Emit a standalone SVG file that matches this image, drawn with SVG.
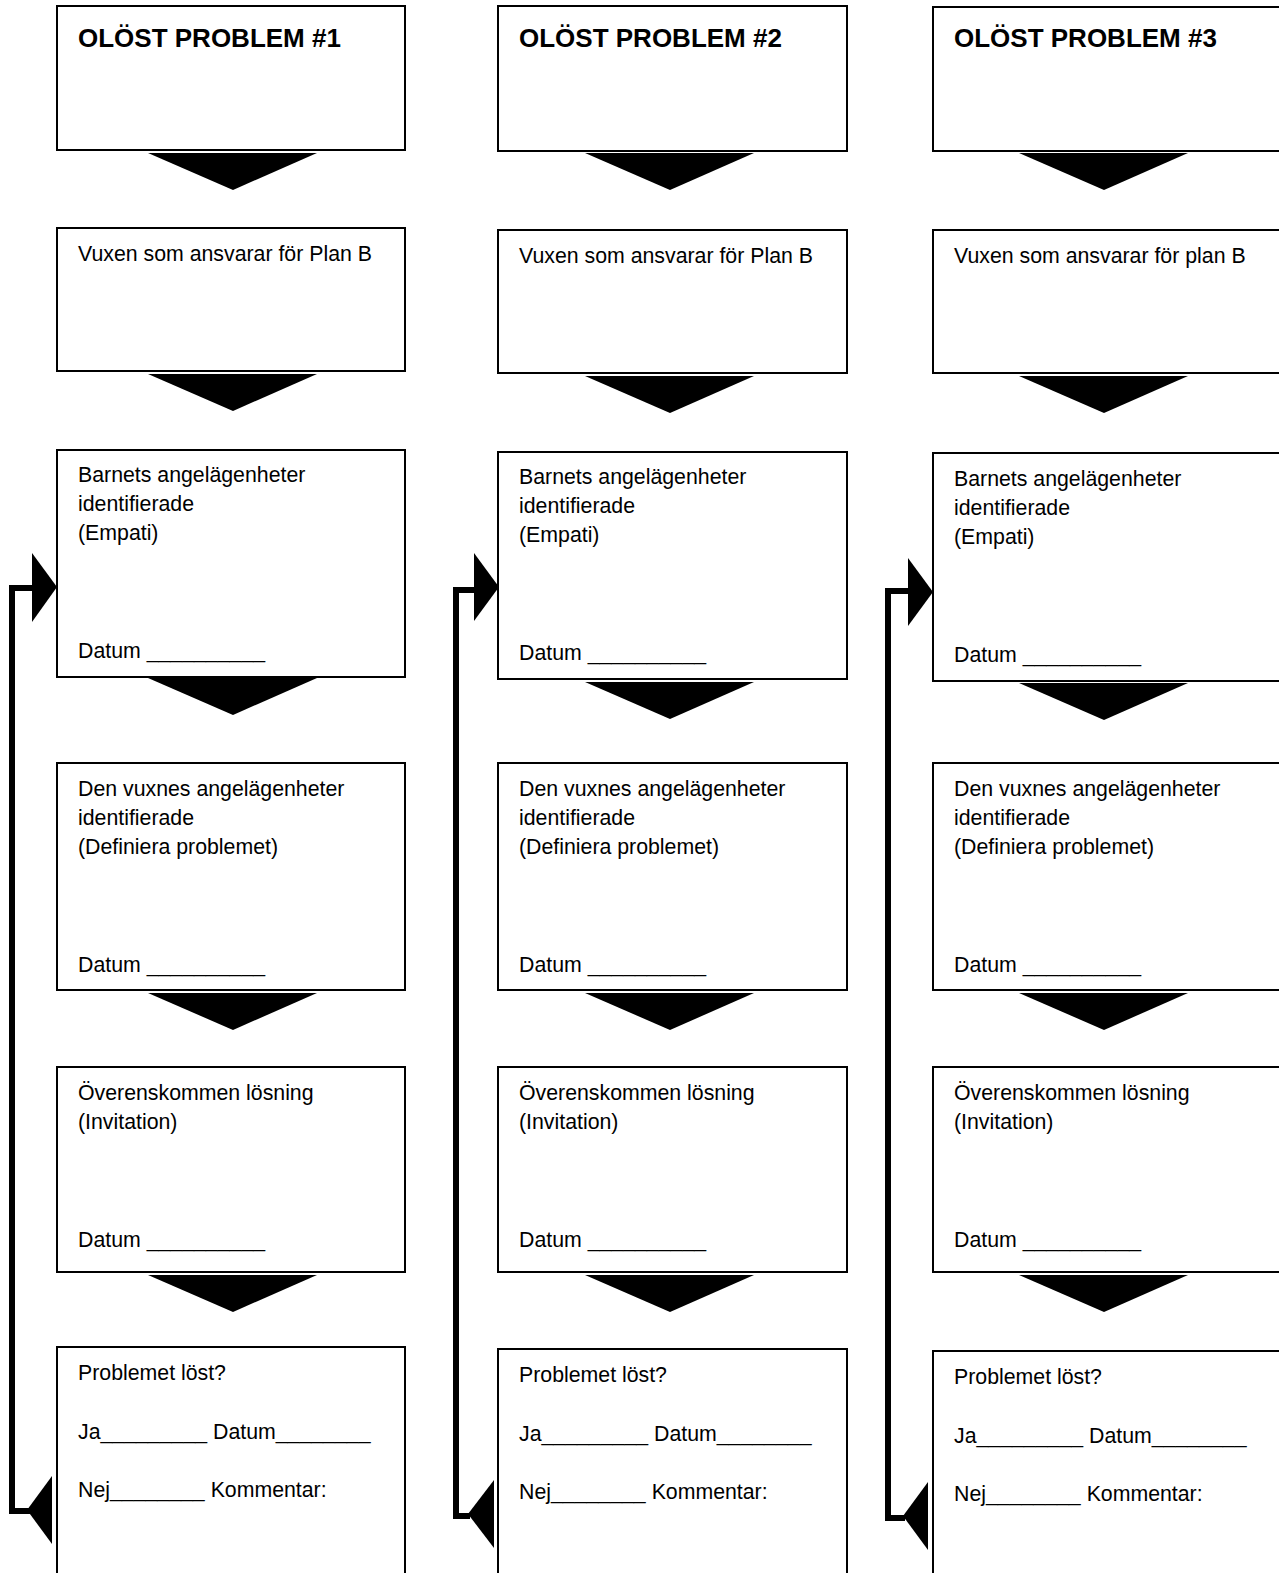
<svg xmlns="http://www.w3.org/2000/svg" xmlns:xlink="http://www.w3.org/1999/xlink" width="1279" height="1573" viewBox="0 0 1279 1573">
<style>
.box{fill:#fff;stroke:#000;stroke-width:2}
.t{font-family:"Liberation Sans",Arial,sans-serif;font-size:21.3px;fill:#000}
.h{font-family:"Liberation Sans",Arial,sans-serif;font-size:26px;font-weight:bold;fill:#000}
.loop{fill:none;stroke:#000;stroke-width:6;stroke-linejoin:miter}
.tri{fill:#000}
</style>
<defs>
<polygon id="dn" points="0,0 169,0 85,37"/>
</defs>
<rect width="1279" height="1573" fill="#fff"/>

<!-- Column 1 -->
<g id="c1-problem"><rect class="box" x="57" y="6" width="348" height="144"/><text class="h" x="78" y="47">OLÖST PROBLEM #1</text></g>
<g id="c1-vuxen"><rect class="box" x="57" y="228" width="348" height="143"/><text class="t" x="78" y="261">Vuxen som ansvarar för Plan B</text></g>
<g id="c1-barnets"><rect class="box" x="57" y="450" width="348" height="227"/><text class="t" x="78" y="482">Barnets angelägenheter</text><text class="t" x="78" y="511">identifierade</text><text class="t" x="78" y="540">(Empati)</text><text class="t" x="78" y="658">Datum __________</text></g>
<g id="c1-vuxnes"><rect class="box" x="57" y="763" width="348" height="227"/><text class="t" x="78" y="796">Den vuxnes angelägenheter</text><text class="t" x="78" y="825">identifierade</text><text class="t" x="78" y="854">(Definiera problemet)</text><text class="t" x="78" y="972">Datum __________</text></g>
<g id="c1-losning"><rect class="box" x="57" y="1067" width="348" height="205"/><text class="t" x="78" y="1100">Överenskommen lösning</text><text class="t" x="78" y="1129">(Invitation)</text><text class="t" x="78" y="1247">Datum __________</text></g>
<g id="c1-lost"><rect class="box" x="57" y="1347" width="348" height="250"/><text class="t" x="78" y="1380">Problemet löst?</text><text class="t" x="78" y="1439">Ja_________ Datum________</text><text class="t" x="78" y="1497">Nej________ Kommentar:</text></g>

<!-- Column 2 -->
<g id="c2-problem"><rect class="box" x="498" y="6" width="349" height="145"/><text class="h" x="519" y="47">OLÖST PROBLEM #2</text></g>
<g id="c2-vuxen"><rect class="box" x="498" y="230" width="349" height="143"/><text class="t" x="519" y="263">Vuxen som ansvarar för Plan B</text></g>
<g id="c2-barnets"><rect class="box" x="498" y="452" width="349" height="227"/><text class="t" x="519" y="484">Barnets angelägenheter</text><text class="t" x="519" y="513">identifierade</text><text class="t" x="519" y="542">(Empati)</text><text class="t" x="519" y="660">Datum __________</text></g>
<g id="c2-vuxnes"><rect class="box" x="498" y="763" width="349" height="227"/><text class="t" x="519" y="796">Den vuxnes angelägenheter</text><text class="t" x="519" y="825">identifierade</text><text class="t" x="519" y="854">(Definiera problemet)</text><text class="t" x="519" y="972">Datum __________</text></g>
<g id="c2-losning"><rect class="box" x="498" y="1067" width="349" height="205"/><text class="t" x="519" y="1100">Överenskommen lösning</text><text class="t" x="519" y="1129">(Invitation)</text><text class="t" x="519" y="1247">Datum __________</text></g>
<g id="c2-lost"><rect class="box" x="498" y="1349" width="349" height="250"/><text class="t" x="519" y="1382">Problemet löst?</text><text class="t" x="519" y="1441">Ja_________ Datum________</text><text class="t" x="519" y="1499">Nej________ Kommentar:</text></g>

<!-- Column 3 -->
<g id="c3-problem"><rect class="box" x="933" y="7" width="360" height="144"/><text class="h" x="954" y="47">OLÖST PROBLEM #3</text></g>
<g id="c3-vuxen"><rect class="box" x="933" y="230" width="360" height="143"/><text class="t" x="954" y="263">Vuxen som ansvarar för plan B</text></g>
<g id="c3-barnets"><rect class="box" x="933" y="453" width="360" height="228"/><text class="t" x="954" y="486">Barnets angelägenheter</text><text class="t" x="954" y="515">identifierade</text><text class="t" x="954" y="544">(Empati)</text><text class="t" x="954" y="662">Datum __________</text></g>
<g id="c3-vuxnes"><rect class="box" x="933" y="763" width="360" height="227"/><text class="t" x="954" y="796">Den vuxnes angelägenheter</text><text class="t" x="954" y="825">identifierade</text><text class="t" x="954" y="854">(Definiera problemet)</text><text class="t" x="954" y="972">Datum __________</text></g>
<g id="c3-losning"><rect class="box" x="933" y="1067" width="360" height="205"/><text class="t" x="954" y="1100">Överenskommen lösning</text><text class="t" x="954" y="1129">(Invitation)</text><text class="t" x="954" y="1247">Datum __________</text></g>
<g id="c3-lost"><rect class="box" x="933" y="1351" width="360" height="250"/><text class="t" x="954" y="1384">Problemet löst?</text><text class="t" x="954" y="1443">Ja_________ Datum________</text><text class="t" x="954" y="1501">Nej________ Kommentar:</text></g>

<g id="connectors">
<use href="#dn" x="148" y="153"/>
<use href="#dn" x="148" y="374"/>
<use href="#dn" x="148" y="678"/>
<use href="#dn" x="148" y="993"/>
<use href="#dn" x="148" y="1275"/>
<use href="#dn" x="585" y="153"/>
<use href="#dn" x="585" y="376"/>
<use href="#dn" x="585" y="682"/>
<use href="#dn" x="585" y="993"/>
<use href="#dn" x="585" y="1275"/>
<use href="#dn" x="1019" y="153"/>
<use href="#dn" x="1019" y="376"/>
<use href="#dn" x="1019" y="683"/>
<use href="#dn" x="1019" y="993"/>
<use href="#dn" x="1019" y="1275"/>

<path class="loop" d="M34 588 H12 V1511 H30"/>
<polygon class="tri" points="32,553 57,587 32,622"/>
<polygon class="tri" points="52,1476 27,1510 52,1544"/>

<path class="loop" d="M476 590 H456 V1516 H470"/>
<polygon class="tri" points="474,553 499,587 474,621"/>
<polygon class="tri" points="494,1480 468,1514 494,1548"/>

<path class="loop" d="M910 591 H888 V1518 H905"/>
<polygon class="tri" points="908,558 933,592 908,626"/>
<polygon class="tri" points="928,1482 903,1516 928,1550"/>
</g>
</svg>
